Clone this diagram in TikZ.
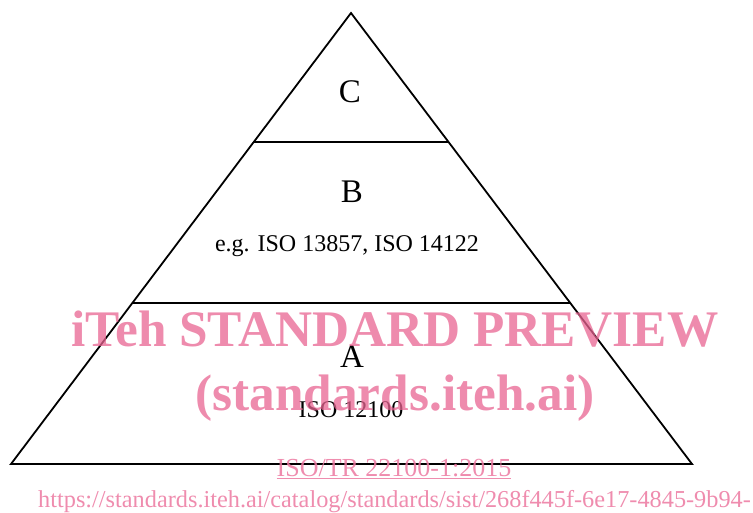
\documentclass[tikz,border=0pt]{standalone}
\usepackage{fontspec}
\setmainfont{Liberation Serif}
\usetikzlibrary{calc}
\definecolor{edgeblack}{RGB}{0,0,0}
\definecolor{markpink}{RGB}{232,100,145}
\definecolor{linkpink}{RGB}{236,120,160}
\tikzset{
  % Pyramid outline and tier dividers
  outline/.style={
    draw=edgeblack, line width=1.8pt, line join=miter
  },
  % Tier letter (A, B, C)
  tierletter/.style={
    anchor=base, inner sep=0pt, text=edgeblack,
    font=\fontsize{33}{36}\selectfont
  },
  % Example standards in a tier
  tiernote/.style={
    anchor=base, inner sep=0pt, text=edgeblack,
    font=\fontsize{24}{28}\selectfont
  },
  % Watermark lines
  watermark/.style={
    anchor=base, inner sep=0pt, text=markpink, text opacity=0.75,
    font=\fontsize{51.3}{56}\selectfont\bfseries
  },
  % Footer link lines
  footlink/.style={
    anchor=base, inner sep=0pt, text=linkpink, text opacity=0.85
  },
}

\begin{document}
\begin{tikzpicture}[x=1pt, y=-1pt]
  \useasboundingbox (0,0) rectangle (753,513);

  % pyramid corners
  \coordinate (apex) at (351,13);
  \coordinate (baseL) at (11,464);
  \coordinate (baseR) at (692,464);
  \coordinate (midL) at ($(apex)!0.643!(baseL)$);
  \coordinate (midR) at ($(apex)!0.643!(baseR)$);
  \coordinate (topL) at ($(apex)!0.286!(baseL)$);
  \coordinate (topR) at ($(apex)!0.286!(baseR)$);

  \draw[outline] (apex) -- (baseL) -- (baseR) -- cycle;
  \draw[outline] (topL) -- (topR);
  \draw[outline] (midL) -- (midR);

  % tier labels
  \node[tierletter] (tierC) at (350,103) {C};
  \node[tierletter] (tierB) at (352,203) {B};
  \node[tiernote] (noteB) at (347,252) {e.g. ISO 13857, ISO 14122};
  \node[tierletter] (tierA) at (352,367) {A};
  \node[tiernote] (noteA) at (351,417) {ISO 12100};

  % watermark
  \node[watermark] (markTop) at (395,347) {iTeh STANDARD PREVIEW};
  \node[watermark] (markSub) at (395,410) {(standards.iteh.ai)};
  \node[footlink, font=\fontsize{26}{30}\selectfont] (docRef) at (394,476)
    {\underline{ISO/TR 22100-1:2015}};
  \node[footlink, anchor=base west, font=\fontsize{24.3}{28}\selectfont] (docUrl) at (38,507)
    {https://standards.iteh.ai/catalog/standards/sist/268f445f-6e17-4845-9b94-};
\end{tikzpicture}
\end{document}
